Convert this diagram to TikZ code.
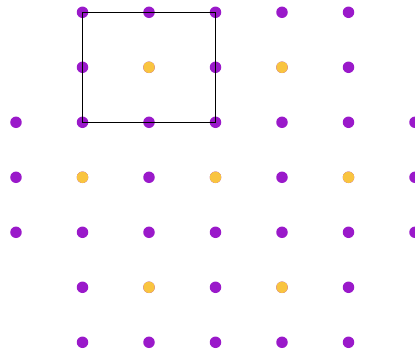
\documentclass[tikz,border=0pt]{standalone}
\usepackage{tikz}
\usetikzlibrary{calc}
\definecolor{dotpurple}{HTML}{9A19CA}
\definecolor{dotyellow}{HTML}{F9C440}

\begin{document}
\begin{tikzpicture}[x=66.5pt,y=-55pt,
  pt/.style={circle,inner sep=0pt,minimum size=11.5pt,fill=dotpurple},
  ptalt/.style={pt,fill=dotyellow}]
  \useasboundingbox (-0.2406,-0.2236) rectangle (6.0,6.2127);
  % rows with five dots
  \foreach \r in {0,1,5,6}
    \foreach \c in {1,...,5}
      \node[pt] (d-\c-\r) at (\c,\r) {};
  % rows with seven dots
  \foreach \r in {2,3,4}
    \foreach \c in {0,...,6}
      \node[pt] (d-\c-\r) at (\c,\r) {};
  % yellow ones
  \foreach \c/\r in {2/1,4/1,1/3,3/3,5/3,2/5,4/5}
    \node[ptalt] at (d-\c-\r) {};
  % the square
  \draw[line width=1.5pt,black] (d-1-0.center) -- (d-3-0.center) -- (d-3-2.center) -- (d-1-2.center) -- cycle;
\end{tikzpicture}
\end{document}
